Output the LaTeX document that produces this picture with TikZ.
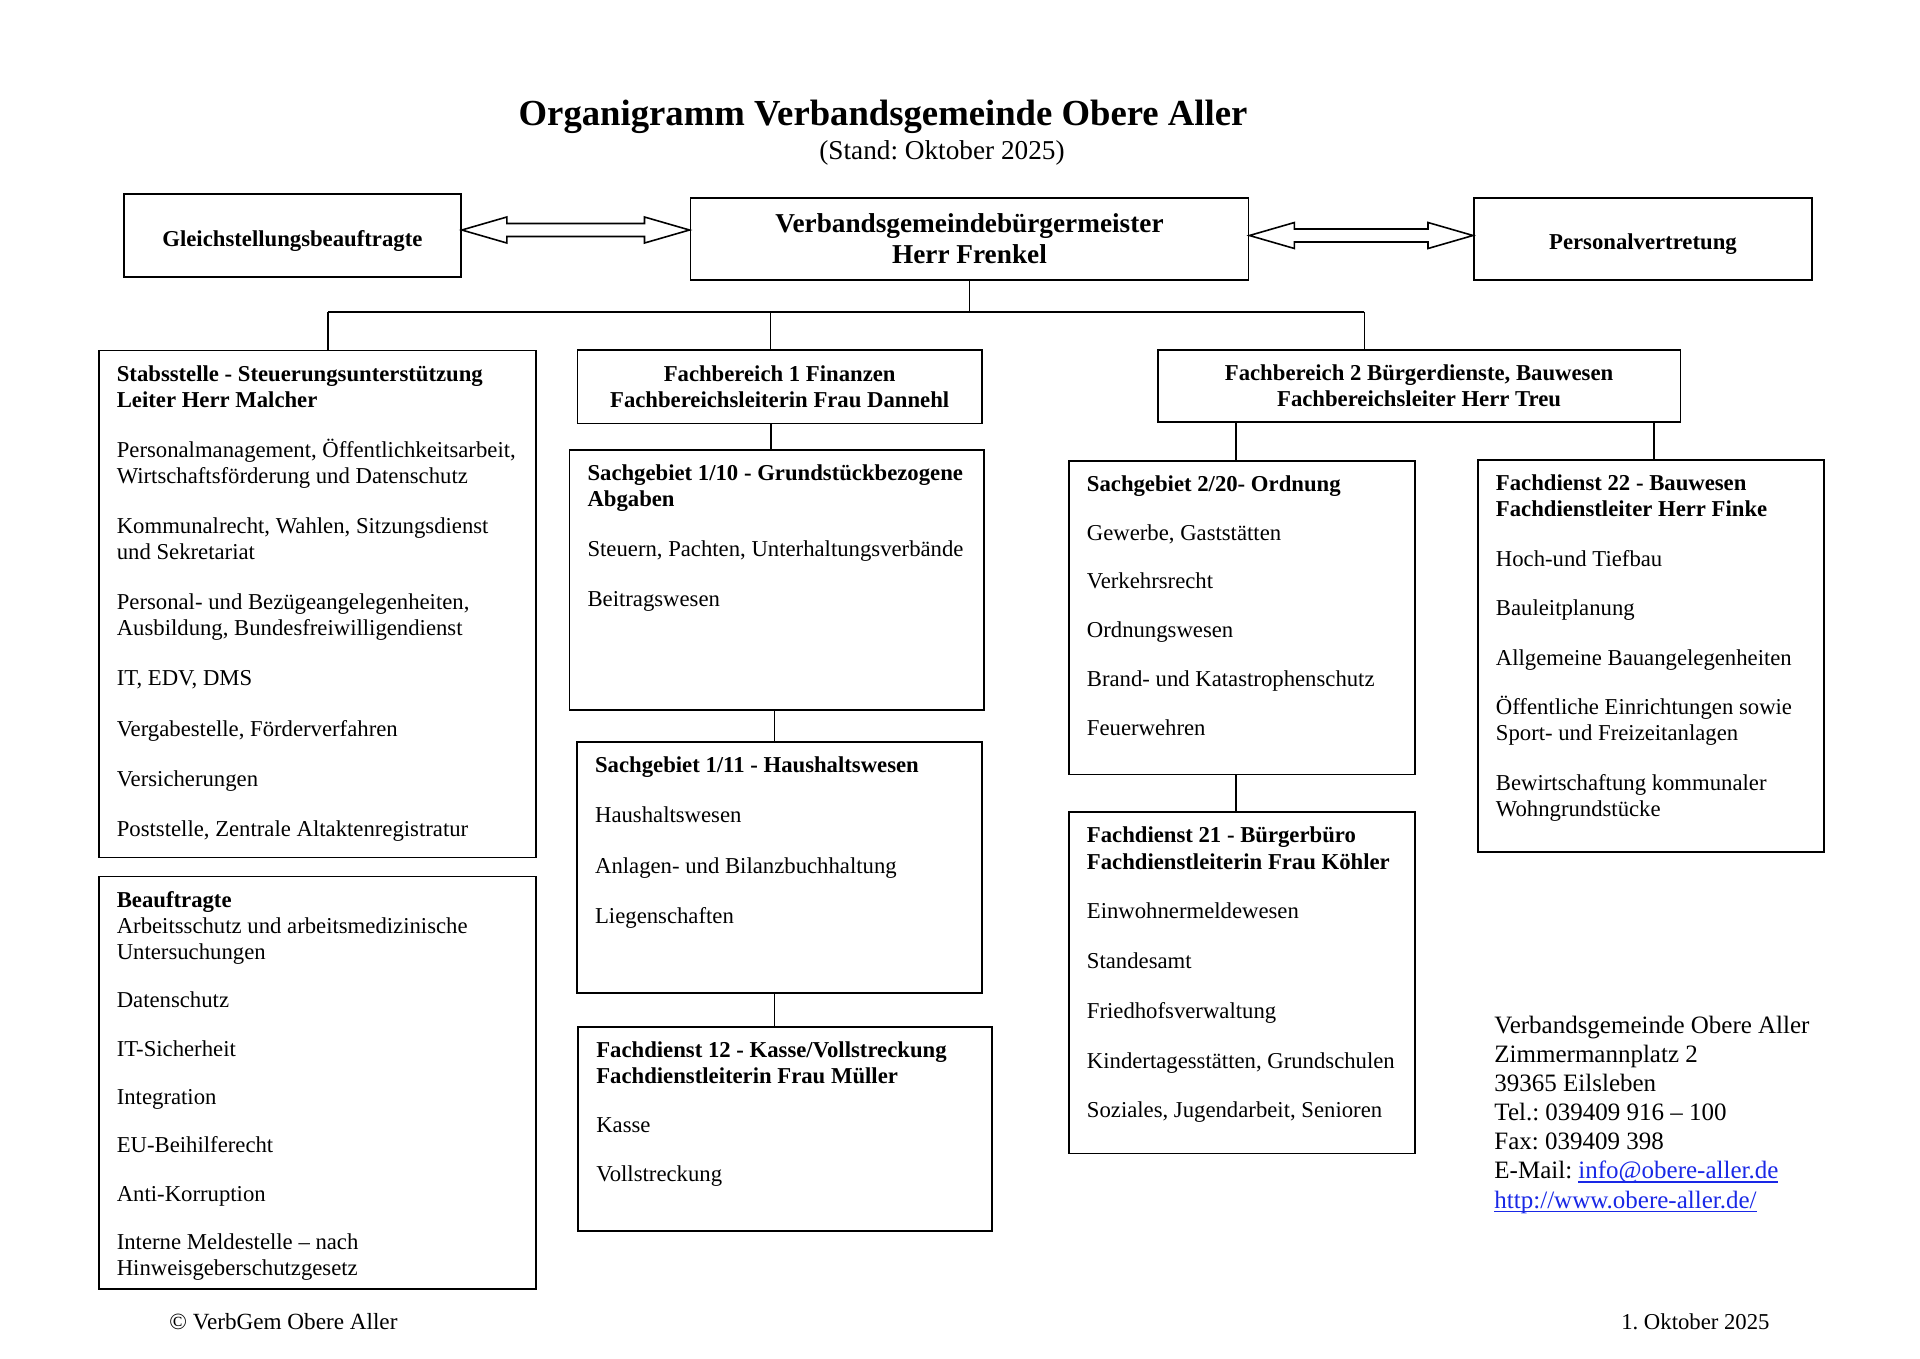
\documentclass[tikz,border=0pt]{standalone}
\usepackage{fontspec}
\setmainfont{Liberation Serif}
\usepackage{xcolor}
\usetikzlibrary{calc}
\frenchspacing
\newlength{\dpx}
\setlength{\dpx}{0.154688mm}
\definecolor{linkblue}{RGB}{25,40,230}
\newcommand{\unitbody}[4][10.4pt]{\parbox[t][\dimexpr#3\dpx-10.8pt\relax][t]{#2\dpx}{\fontsize{10}{11.5}\selectfont\raggedright\leftskip=18\dpx\relax\setlength{\parskip}{#1}\strut #4}}
\newcommand{\weblink}[1]{\textcolor{linkblue}{\setbox0\hbox{#1}\rlap{\rule[-1.6pt]{\wd0}{0.5pt}}\box0}}

\begin{document}
\begin{tikzpicture}[x=0.154688mm, y=-0.154688mm,
    unit/.style={draw, line width=0.8pt, anchor=north west, inner xsep=0pt, inner ysep=5.4pt},
    head/.style={draw, line width=0.8pt, anchor=north west, align=center, inner sep=0pt,
        font=\fontsize{10}{11.5}\selectfont\bfseries},
    lowtext/.style={text height=11.5pt, text depth=2.2pt},
    link/.style={line width=0.7pt},
    hollow/.style={line width=0.7pt, line join=miter}]
    \useasboundingbox (0,0) rectangle (1920,1358);

    % title
    \node[anchor=base, font=\fontsize{16.15}{19}\selectfont\bfseries] (title) at (883,125.8)
        {Organigramm Verbandsgemeinde Obere Aller};
    \node[anchor=base, font=\fontsize{12}{14}\selectfont] (stand) at (942,159.8)
        {(Stand: Oktober 2025)};

    % top row
    \node[head, lowtext, minimum width=337\dpx, minimum height=82.7\dpx] (gleich) at (123,193.3)
        {Gleichstellungsbeauftragte};
    \node[head, minimum width=558.1\dpx, minimum height=82.6\dpx,
        font=\fontsize{12}{13.5}\selectfont\bfseries] (bgm) at (689.5,196.7)
        {Verbandsgemeindebürgermeister\\Herr Frenkel};
    \node[head, lowtext, minimum width=338\dpx, minimum height=82.6\dpx] (pers) at (1473,196.7)
        {Personalvertretung};

    \coordinate (a1s) at (gleich.east |- 0,230);
    \coordinate (a1e) at (bgm.west |- 0,230);
    \coordinate (a2s) at (bgm.east |- 0,235.5);
    \coordinate (a2e) at (pers.west |- 0,235.5);
    \foreach \s/\e in {a1s/a1e, a2s/a2e}
        \draw[hollow] (\s) -- ++(45,-13) -- ++(0,6.5) -- ($(\e)+(-45,-6.5)$) -- ++(0,-6.5)
            -- (\e) -- ++(-45,13) -- ++(0,-6.5) -- ($(\s)+(45,6.5)$) -- ++(0,6.5) -- cycle;

    % second row
    \node[unit] (stab) at (97.9,349.6) {\unitbody[10.55pt]{437.1}{506.9}{%
        \textbf{Stabsstelle - Steuerungsunterstützung\\Leiter Herr Malcher}\par
        Personalmanagement, Öffentlichkeitsarbeit,\\Wirtschaftsförderung und Datenschutz\par
        Kommunalrecht, Wahlen, Sitzungsdienst\\und Sekretariat\par
        Personal- und Bezügeangelegenheiten,\\Ausbildung, Bundesfreiwilligendienst\par
        IT, EDV, DMS\par
        Vergabestelle, Förderverfahren\par
        Versicherungen\par
        Poststelle, Zentrale Altaktenregistratur}};
    \node[unit] (beauf) at (97.9,875.6) {\unitbody[9.8pt]{437.1}{412.7}{%
        \textbf{Beauftragte}\\Arbeitsschutz und arbeitsmedizinische\\Untersuchungen\par
        Datenschutz\par
        IT-Sicherheit\par
        Integration\par
        EU-Beihilferecht\par
        Anti-Korruption\par
        Interne Meldestelle – nach\\Hinweisgeberschutzgesetz}};

    \node[head, minimum width=404.5\dpx, minimum height=73.8\dpx] (fb1) at (576.5,348.7)
        {Fachbereich 1 Finanzen\\Fachbereichsleiterin Frau Dannehl};
    \node[unit] (sg110) at (568.6,449) {\unitbody[10.5pt]{414.7}{260}{%
        \textbf{Sachgebiet 1/10 - Grundstückbezogene\\Abgaben}\par
        Steuern, Pachten, Unterhaltungsverbände\par
        Beitragswesen}};
    \node[unit] (sg111) at (576.2,741) {\unitbody[10.7pt]{405.1}{251}{%
        \textbf{Sachgebiet 1/11 - Haushaltswesen}\par
        Haushaltswesen\par
        Anlagen- und Bilanzbuchhaltung\par
        Liegenschaften}};
    \node[unit] (fd12) at (577.4,1025.7) {\unitbody[10pt]{413.3}{204.1}{%
        \textbf{Fachdienst 12 - Kasse/Vollstreckung\\Fachdienstleiterin Frau Müller}\par
        Kasse\par
        Vollstreckung}};

    \node[head, minimum width=522.9\dpx, minimum height=71.4\dpx] (fb2) at (1156.7,349.3)
        {Fachbereich 2 Bürgerdienste, Bauwesen\\Fachbereichsleiter Herr Treu};
    \node[unit] (sg220) at (1068,459.8) {\unitbody[10pt]{346.3}{313.8}{%
        \textbf{Sachgebiet 2/20- Ordnung}\par
        Gewerbe, Gaststätten\par
        Verkehrsrecht\par
        Ordnungswesen\par
        Brand- und Katastrophenschutz\par
        Feuerwehren}};
    \node[unit] (fd21) at (1068,811.4) {\unitbody[10.4pt]{346.3}{341.2}{%
        \textbf{Fachdienst 21 - Bürgerbüro\\Fachdienstleiterin Frau Köhler}\par
        Einwohnermeldewesen\par
        Standesamt\par
        Friedhofsverwaltung\par
        Kindertagesstätten, Grundschulen\par
        Soziales, Jugendarbeit, Senioren}};
    \node[unit] (fd22) at (1477,459) {\unitbody[10.3pt]{346.3}{392}{%
        \textbf{Fachdienst 22 - Bauwesen\\Fachdienstleiter Herr Finke}\par
        Hoch-und Tiefbau\par
        Bauleitplanung\par
        Allgemeine Bauangelegenheiten\par
        Öffentliche Einrichtungen sowie\\Sport- und Freizeitanlagen\par
        Bewirtschaftung kommunaler\\Wohngrundstücke}};

    % lines
    \coordinate (busL) at (328,311.7);
    \coordinate (busF1) at (770.5,311.7);
    \coordinate (busR) at (1364.4,311.7);
    \draw[link] (bgm.south) -- (bgm.south |- busL);
    \draw[link] (busL) -- (busR);
    \draw[link] (busL) -- (busL |- stab.north);
    \draw[link] (busF1) -- (busF1 |- fb1.north);
    \draw[link] (busR) -- (busR |- fb2.north);
    \foreach \x/\a/\b in {770.7/fb1/sg110, 774.3/sg110/sg111, 774.3/sg111/fd12,
                          1236/fb2/sg220, 1654/fb2/fd22, 1236/sg220/fd21}
        \draw[link] (\x,0 |- \a.south) -- (\x,0 |- \b.north);

    % contact and footer
    \node[anchor=base west, inner sep=0pt] (contact) at (1494,1033) {\parbox[t]{70mm}{%
        \fontsize{11}{12.84}\selectfont
        Verbandsgemeinde Obere Aller\\
        Zimmermannplatz 2\\
        39365 Eilsleben\\
        Tel.: 039409 916 – 100\\
        Fax: 039409 398\\
        E-Mail: \weblink{info@obere-aller.de}\\
        \weblink{http://www.obere-aller.de/}}};
    \node[anchor=base west, inner sep=0pt, font=\fontsize{10.2}{12}\selectfont] (copy) at (169,1329)
        {© VerbGem Obere Aller};
    \node[anchor=base east, inner sep=0pt, font=\fontsize{10}{12}\selectfont] (datum) at (1770,1329)
        {1. Oktober 2025};
\end{tikzpicture}
\end{document}
